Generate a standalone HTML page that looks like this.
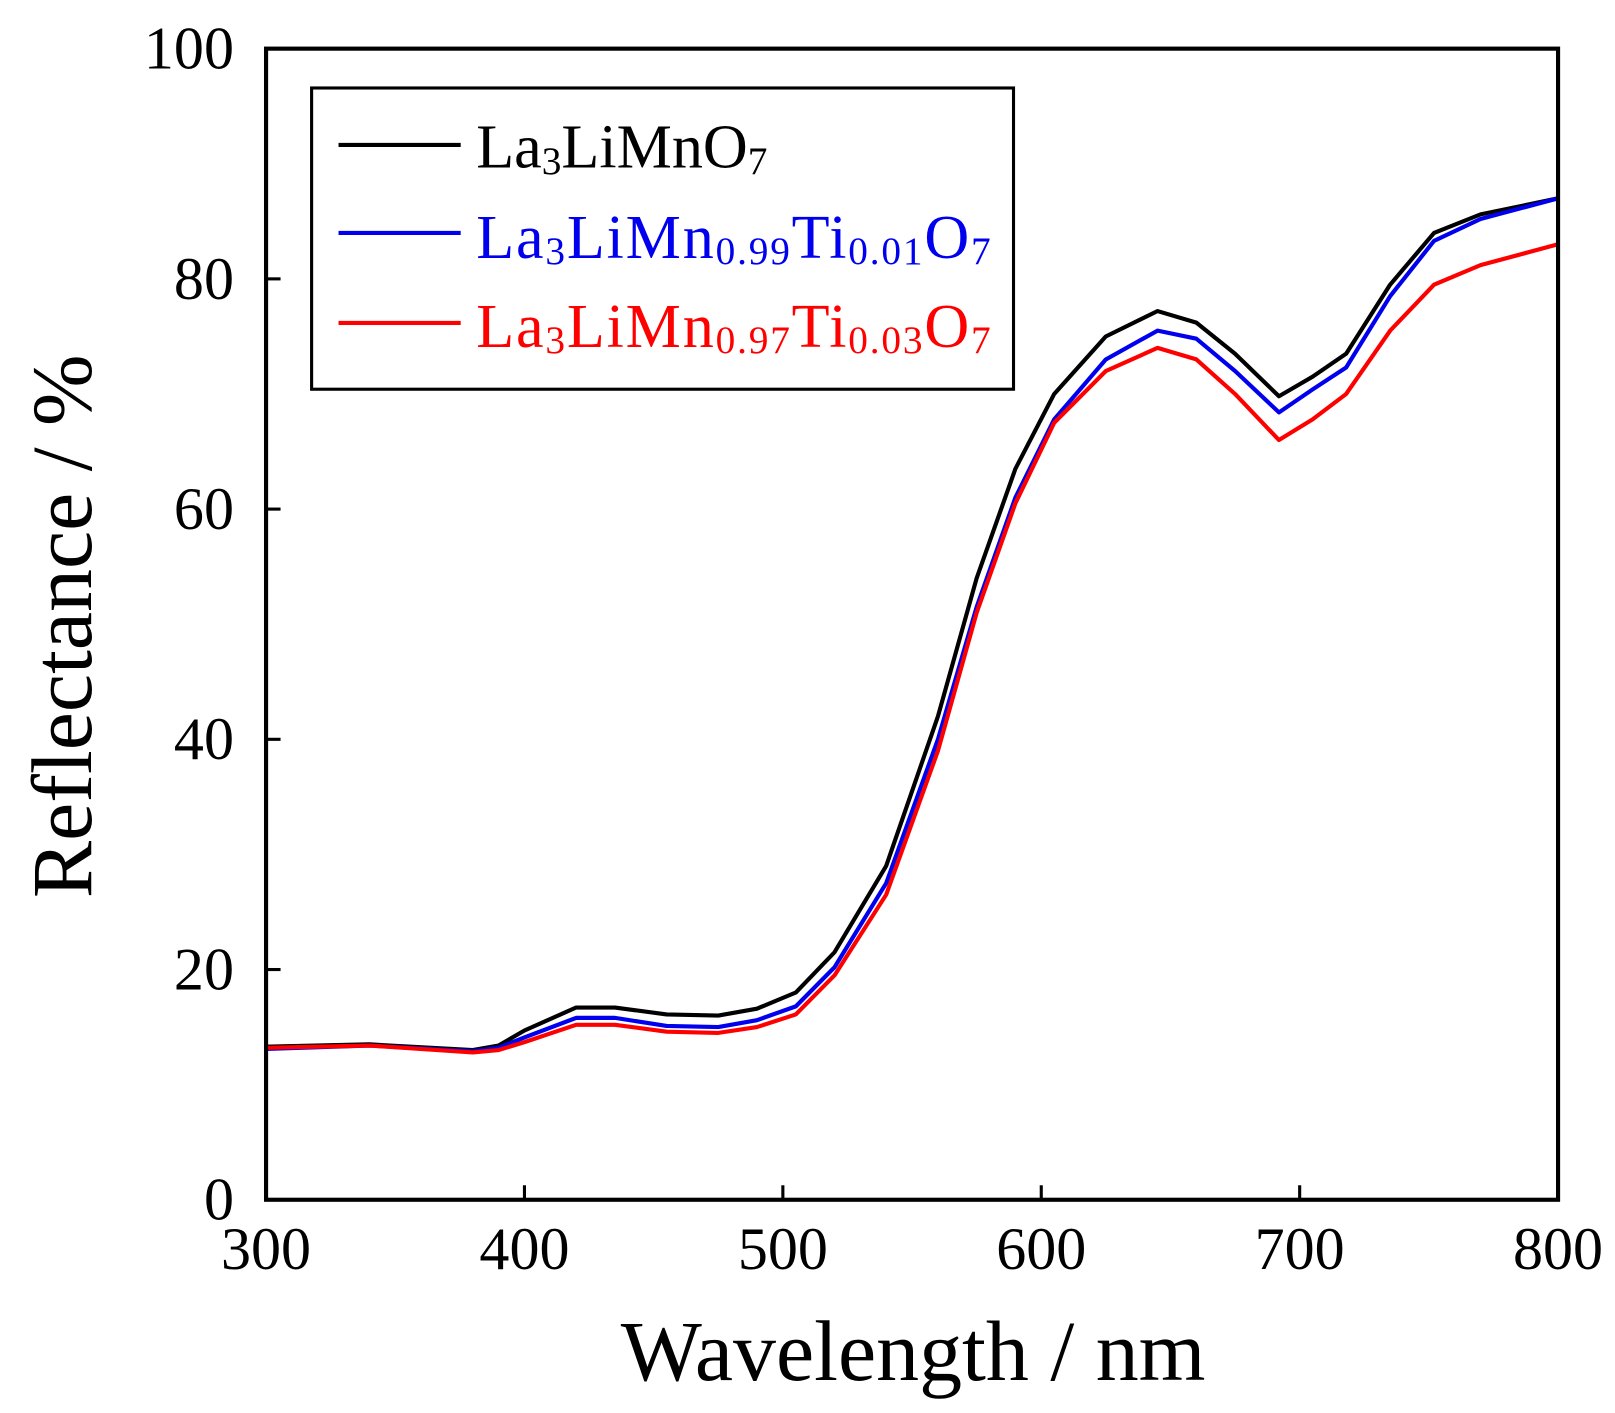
<!DOCTYPE html>
<html><head><meta charset="utf-8"><style>
html,body{margin:0;padding:0;background:#fff;}
svg{display:block;}
text{font-family:"Liberation Serif",serif;}
</style></head><body>
<svg width="1615" height="1413" viewBox="0 0 1560 1365" preserveAspectRatio="none" xmlns="http://www.w3.org/2000/svg">
<g fill="none" stroke-width="4" stroke-linejoin="round">
<polyline stroke="#000" points="257,1011.1 356.8,1008.9 456.7,1014.4 481.6,1010.0 506.6,995.5 556.5,973.3 594.0,973.3 643.9,980.0 693.8,981.1 731.2,974.4 768.7,958.8 806.1,919.9 856.0,836.5 906.0,692.0 943.4,558.5 980.8,452.9 1018.3,380.6 1068.2,325.0 1118.1,300.5 1155.6,311.7 1193.0,341.7 1235.4,382.8 1267.9,363.9 1300.3,341.7 1342.8,275.0 1385.2,225.0 1430.1,207.1 1505,191.6"/>
<polyline stroke="#0000ee" points="257,1013.3 356.8,1010.0 456.7,1015.6 481.6,1012.2 506.6,1002.2 556.5,983.3 594.0,983.3 643.9,991.1 693.8,992.2 731.2,985.5 768.7,972.2 806.1,934.4 856.0,853.2 906.0,714.2 943.4,586.3 980.8,480.7 1018.3,405.1 1068.2,347.2 1118.1,319.4 1155.6,327.2 1193.0,358.4 1235.4,398.4 1267.9,376.2 1300.3,355.0 1342.8,286.1 1385.2,232.7 1430.1,211.6 1505,191.6"/>
<polyline stroke="#ff0000" points="257,1012.2 356.8,1010.0 456.7,1016.7 481.6,1014.4 506.6,1006.7 556.5,990.0 594.0,990.0 643.9,996.6 693.8,997.8 731.2,992.2 768.7,980.0 806.1,942.2 856.0,864.3 906.0,725.3 943.4,591.9 980.8,486.2 1018.3,408.4 1068.2,358.4 1118.1,336.1 1155.6,347.2 1193.0,380.6 1235.4,425.1 1267.9,405.1 1300.3,380.6 1342.8,319.4 1385.2,275.0 1430.1,256.1 1505,236.0"/>
</g>
<rect x="257" y="47" width="1248" height="1112" fill="none" stroke="#000" stroke-width="4"/>
<g stroke="#000" stroke-width="3">
<line x1="506.6" y1="1159" x2="506.6" y2="1145"/><line x1="756.2" y1="1159" x2="756.2" y2="1145"/>
<line x1="1005.8" y1="1159" x2="1005.8" y2="1145"/><line x1="1255.4" y1="1159" x2="1255.4" y2="1145"/>
<line x1="257" y1="936.6" x2="271" y2="936.6"/><line x1="257" y1="714.2" x2="271" y2="714.2"/>
<line x1="257" y1="491.8" x2="271" y2="491.8"/><line x1="257" y1="269.4" x2="271" y2="269.4"/>
</g>
<g font-size="58" text-anchor="end">
<text x="226" y="1178">0</text><text x="226" y="956">20</text><text x="226" y="733">40</text>
<text x="226" y="511">60</text><text x="226" y="289">80</text><text x="226" y="66">100</text>
</g>
<g font-size="58" text-anchor="middle">
<text x="257" y="1226">300</text><text x="506.6" y="1226">400</text><text x="756.2" y="1226">500</text>
<text x="1005.8" y="1226">600</text><text x="1255.4" y="1226">700</text><text x="1505" y="1226">800</text>
</g>
<text x="882" y="1333" font-size="83" text-anchor="middle">Wavelength / nm</text>
<text transform="translate(88,605) rotate(-90)" font-size="83" text-anchor="middle">Reflectance / %</text>
<rect x="301" y="85" width="678" height="291" fill="#fff" stroke="#000" stroke-width="3"/>
<line x1="327" y1="140" x2="445" y2="140" stroke="#000" stroke-width="4"/>
<line x1="327" y1="225" x2="445" y2="225" stroke="#0000ee" stroke-width="4"/>
<line x1="327" y1="312" x2="445" y2="312" stroke="#ff0000" stroke-width="4"/>
<g font-size="60">
<text x="460" y="162" fill="#000">La<tspan font-size="38" dy="6">3</tspan><tspan dy="-6">LiMnO</tspan><tspan font-size="38" dy="6">7</tspan></text>
<text x="460" y="249" fill="#0000ee" textLength="497">La<tspan font-size="38" dy="6">3</tspan><tspan dy="-6">LiMn</tspan><tspan font-size="38" dy="6">0.99</tspan><tspan dy="-6">Ti</tspan><tspan font-size="38" dy="6">0.01</tspan><tspan dy="-6">O</tspan><tspan font-size="38" dy="6">7</tspan></text>
<text x="460" y="335" fill="#ff0000" textLength="497">La<tspan font-size="38" dy="6">3</tspan><tspan dy="-6">LiMn</tspan><tspan font-size="38" dy="6">0.97</tspan><tspan dy="-6">Ti</tspan><tspan font-size="38" dy="6">0.03</tspan><tspan dy="-6">O</tspan><tspan font-size="38" dy="6">7</tspan></text>
</g>
</svg>
</body></html>
